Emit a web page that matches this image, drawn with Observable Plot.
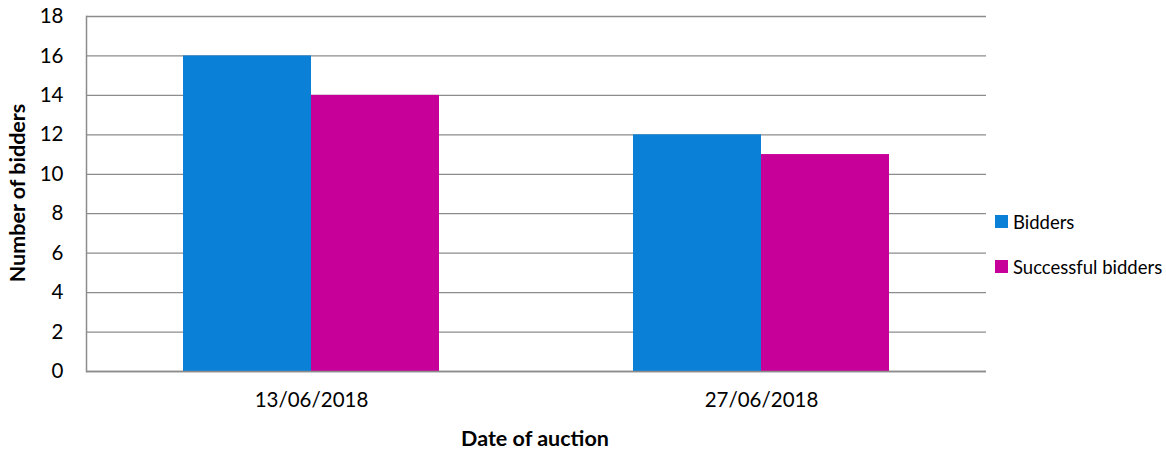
<!DOCTYPE html>
<html><head><meta charset="utf-8">
<script src="https://cdn.jsdelivr.net/npm/d3@7"></script>
<script src="https://cdn.jsdelivr.net/npm/@observablehq/plot@0.6"></script>
<style>
body{margin:0;background:#fff;font-family:Lato,"Open Sans",sans-serif;}
#wrap{position:relative;width:1166px;height:450px;}
#legend{position:absolute;left:995px;top:199px;font-size:18.5px;color:#000;}
.item{display:flex;align-items:center;height:45px;}
.sw{width:13px;height:13px;margin-right:5px;box-sizing:border-box;}
#ylab{position:absolute;left:17px;top:193px;transform:translate(-50%,-50%) rotate(-90deg);white-space:nowrap;font-weight:bold;font-size:21.5px;}
#xlab{position:absolute;left:535px;top:438px;transform:translate(-50%,-50%);white-space:nowrap;font-weight:bold;font-size:21.5px;}
</style></head>
<body>
<div id="wrap"></div>
<script>
const dates = ["13/06/2018", "27/06/2018"];
const series = ["Bidders", "Successful bidders"];
const bidders = [16, 12];
const successful = [14, 11];
const colors = ["#0A81D7", "#C8009A"];
const yTicks = [0, 2, 4, 6, 8, 10, 12, 14, 16, 18];
const yLabel = "Number of bidders";
const xLabel = "Date of auction";

const data = dates.flatMap((d, i) => [
  {date: d, series: series[0], value: bidders[i]},
  {date: d, series: series[1], value: successful[i]}
]);

const chart = Plot.plot({
  width: 1166, height: 450,
  marginLeft: 85, marginRight: 180, marginTop: 16, marginBottom: 79,
  style: {fontFamily: "Lato, 'Open Sans', sans-serif", fontSize: "20.5px", background: "white", color: "#000"},
  fx: {domain: dates, padding: 0, label: null, axis: null},
  x: {domain: series, paddingInner: 0, paddingOuter: 0.745, axis: null},
  y: {domain: [0, 18], ticks: yTicks},
  color: {domain: series, range: colors},
  marks: [
    Plot.gridY(yTicks, {stroke: "#8c8c8c", strokeOpacity: 1, strokeWidth: 1.3}),
    Plot.barY(data, {fx: "date", x: "series", y: "value", fill: "series"}),
    Plot.ruleY([0], {stroke: "#8c8c8c", strokeWidth: 1.5}),
    Plot.frame({anchor: "left", facetAnchor: "left", stroke: "#8c8c8c", strokeWidth: 1.5}),
    Plot.axisY(yTicks, {tickSize: 0, tickPadding: 23, label: null, fontSize: 20.5}),
    Plot.axisFx({anchor: "bottom", tickSize: 0, tickPadding: 21, label: null, fontSize: 20.5})
  ]
});
const wrap = document.getElementById("wrap");
wrap.appendChild(chart);

const legend = document.createElement("div");
legend.id = "legend";
series.forEach((s, i) => {
  const it = document.createElement("div");
  it.className = "item";
  const sw = document.createElement("div");
  sw.className = "sw";
  sw.style.background = colors[i];
  const t = document.createElement("span");
  t.textContent = s;
  it.appendChild(sw); it.appendChild(t);
  legend.appendChild(it);
});
wrap.appendChild(legend);

const yl = document.createElement("div"); yl.id = "ylab"; yl.textContent = yLabel; wrap.appendChild(yl);
const xl = document.createElement("div"); xl.id = "xlab"; xl.textContent = xLabel; wrap.appendChild(xl);
</script>
</body></html>
